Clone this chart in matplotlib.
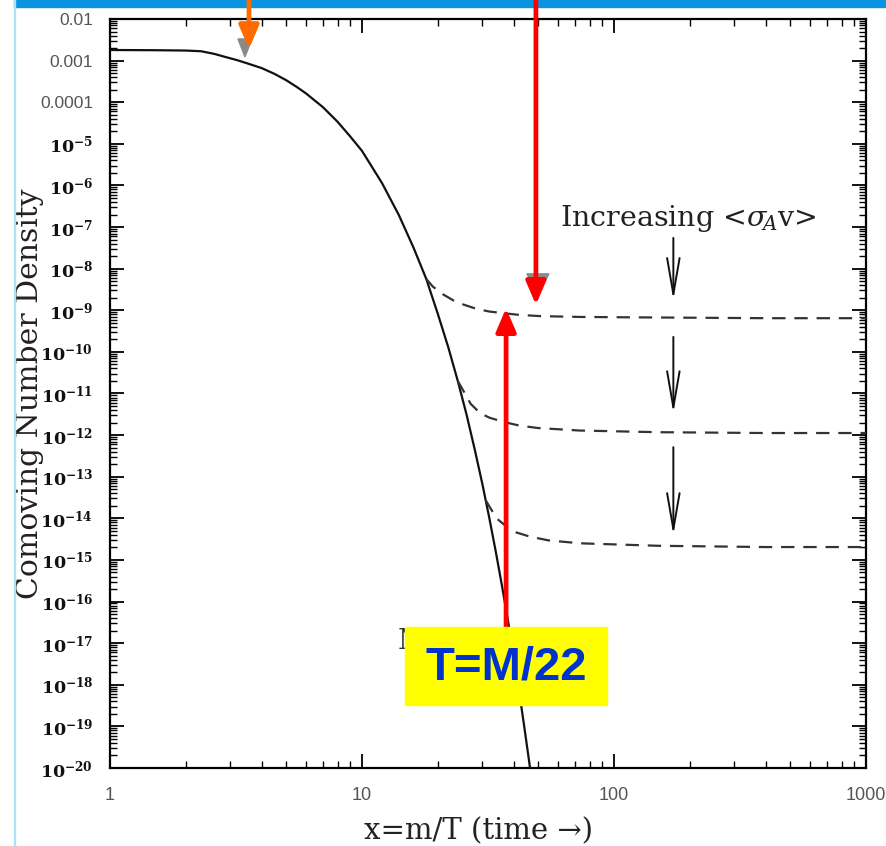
import numpy as np
import matplotlib
matplotlib.use("Agg")
import matplotlib.pyplot as plt
from matplotlib.patches import Rectangle, Polygon
from matplotlib.transforms import IdentityTransform
from matplotlib.ticker import FixedLocator, LogLocator, NullFormatter

plt.rcParams["mathtext.fontset"] = "dejavuserif"

# ---------------- data ----------------
eq_x = [1, 1.5, 2, 2.3, 2.6, 2.8, 3.2, 3.5, 4, 4.5, 5, 5.5, 6, 7, 8, 9, 10,
        12, 14, 16, 18, 20, 22, 24, 26, 28, 30, 32, 34, 36, 38, 40, 42, 44,
        46, 47]
eq_log10 = [-2.745, -2.75, -2.758, -2.775, -2.84, -2.895, -2.99, -3.065,
            -3.18, -3.32, -3.47, -3.63, -3.79, -4.12, -4.47, -4.83, -5.17,
            -5.94, -6.71, -7.49, -8.25, -9.09, -9.89, -10.70, -11.51, -12.34,
            -13.16, -13.99, -14.82, -15.65, -16.48, -17.32, -18.15, -18.99,
            -19.82, -20.24]

fo1_x = [18, 19.1, 21, 23, 25.2, 28.6, 32, 36.3, 42, 50.8, 73, 120, 220, 400, 1000]
fo1_log10 = [-8.25, -8.43, -8.62, -8.76, -8.86, -8.97, -9.03, -9.07, -9.11,
             -9.14, -9.16, -9.17, -9.18, -9.19, -9.19]
fo2_x = [24, 25.5, 27, 29.4, 32, 36.3, 42, 50, 73, 150, 400, 1000]
fo2_log10 = [-10.70, -10.98, -11.25, -11.47, -11.58, -11.68, -11.77, -11.83,
             -11.89, -11.93, -11.95, -11.95]
fo3_x = [31, 32.5, 34.5, 37.5, 41, 46.4, 55, 73.3, 150, 400, 1000]
fo3_log10 = [-13.57, -13.78, -14.02, -14.20, -14.34, -14.44, -14.53, -14.60,
             -14.66, -14.69, -14.69]

y_tick_exp = list(range(-2, -21, -1))
x_tick_vals = [1, 10, 100, 1000]
x_tick_labels = ["1", "10", "100", "1000"]

# annotation anchors (data)
orange_tip = (3.56, 10 ** -2.72)
red_down_tip = (49.0, 10 ** -8.87)
red_up_tip = (37.3, 10 ** -8.95)
small_arrows_x = 172
small_arrows = [(10 ** -7.26, 10 ** -8.75), (10 ** -9.64, 10 ** -11.47),
                (10 ** -12.29, 10 ** -14.40)]

# ---------------- figure ----------------
W, H = 886, 846
fig = plt.figure(figsize=(W / 100, H / 100), dpi=100)
fig.patch.set_facecolor("white")
L, R, T, B = 110, 866, 19, 768
ax = fig.add_axes([L / W, 1 - B / H, (R - L) / W, (B - T) / H])
ax.set_xscale("log")
ax.set_yscale("log")
ax.set_xlim(1, 1000)
ax.set_ylim(1e-20, 1e-2)

ax.plot(eq_x, 10 ** np.array(eq_log10), color="#111111", lw=1.6, zorder=3)
for xs, ls in [(fo1_x, fo1_log10), (fo2_x, fo2_log10), (fo3_x, fo3_log10)]:
    ax.plot(xs, 10 ** np.array(ls), color="#333333", lw=1.6,
            dashes=(6, 4), zorder=3)

# spines / ticks
for s in ax.spines.values():
    s.set_linewidth(1.6)
ax.tick_params(which="both", direction="in", top=True, right=True)
ax.tick_params(which="major", length=10, width=1.3)
ax.tick_params(which="minor", length=5, width=1.0)
ax.xaxis.set_major_locator(FixedLocator(x_tick_vals))
ax.set_xticklabels(x_tick_labels)
ax.xaxis.set_minor_locator(LogLocator(base=10, subs=np.arange(2, 10)))
ax.xaxis.set_minor_formatter(NullFormatter())
ax.yaxis.set_major_locator(FixedLocator([10.0 ** e for e in y_tick_exp]))
ylabels = []
for e in y_tick_exp:
    if e == -2:
        ylabels.append("0.01")
    elif e == -3:
        ylabels.append("0.001")
    elif e == -4:
        ylabels.append("0.0001")
    else:
        ylabels.append(r"$\mathbf{10^{%d}}$" % e)
ax.set_yticklabels(ylabels)
ax.yaxis.set_minor_locator(LogLocator(base=10, subs=np.arange(2, 10), numticks=30))
ax.yaxis.set_minor_formatter(NullFormatter())
ax.tick_params(axis="x", which="major", pad=14)
ax.tick_params(axis="y", which="major", pad=12)
for lab in ax.get_xticklabels():
    lab.set_fontfamily("Liberation Sans")
    lab.set_fontsize(13)
    lab.set_color("#555555")
for lab, e in zip(ax.get_yticklabels(), y_tick_exp):
    if e >= -4:
        lab.set_fontfamily("Liberation Sans")
        lab.set_fontsize(12.5)
        lab.set_color("#555555")
    else:
        lab.set_fontsize(12.5)
        lab.set_color("#111111")

ax.set_ylabel("Comoving Number Density", fontfamily="DejaVu Serif",
              fontsize=21.5, color="#222222")
ax.yaxis.set_label_coords((44 - L) / (R - L), 0.5)
ax.set_xlabel("x=m/T (time \u2192)", fontfamily="DejaVu Serif",
              fontsize=21, color="#222222")
ax.xaxis.set_label_coords((479 - L) / (R - L), -(817 - B) / (B - T))

# text: Increasing <sigma_A v>
fig.text(688 / W, 1 - 218 / H, r"Increasing <$\sigma_{\!A}$v>",
         fontfamily="DejaVu Serif", fontsize=20.5, color="#222222",
         ha="center", va="center")
for y0, y1 in small_arrows:
    ax.annotate("", xy=(small_arrows_x, y1), xytext=(small_arrows_x, y0),
                arrowprops=dict(arrowstyle="->,head_length=2.6,head_width=0.45",
                                color="#111111", lw=1.4, shrinkA=0, shrinkB=0),
                zorder=4)

# partially hidden letter behind the yellow box
ax.text(398 / W, 1 - 641 / H, "N", transform=fig.transFigure, fontsize=20,
        fontfamily="DejaVu Serif", color="#333333", ha="left", va="center",
        zorder=5)

# blue bar and left line (drawn inside the axes layer, under the arrows)
ax.add_patch(Rectangle((14 / W, 1 - 7 / H), (W - 14) / W, 7 / H,
                       transform=fig.transFigure, color="#0A94E0",
                       zorder=10, clip_on=False))
ax.add_patch(Rectangle((13.5 / W, 0), 1.2 / W, 1, transform=fig.transFigure,
                       color="#A8E4F4", zorder=10, clip_on=False))


def big_arrow(tip, start_fig_y, color):
    ax.annotate("", xy=tip, xycoords="data",
                xytext=(tip[0], start_fig_y), textcoords=("data", "figure fraction"),
                arrowprops=dict(arrowstyle="-|>,head_length=14,head_width=6",
                                mutation_scale=1, color=color, lw=3.4,
                                shrinkA=0, shrinkB=0),
                zorder=12, annotation_clip=False)


def shadow_head(tip, dx_px, dy_px, half_w=9, length=20):
    # grey triangle slightly offset behind the arrow head
    px, py = ax.transData.transform(tip)
    pts = [(px - half_w + dx_px, py + length + dy_px),
           (px + half_w + dx_px, py + length + dy_px),
           (px + dx_px, py + dy_px)]
    ax.add_patch(Polygon(pts, closed=True, transform=IdentityTransform(),
                         color="#8a8a8a", zorder=11, clip_on=False))


fig.canvas.draw()
shadow_head(orange_tip, -4, -8, half_w=7, length=18)
shadow_head(red_down_tip, 2, 11, half_w=11, length=20)
big_arrow(orange_tip, 1.0, "#FF6A00")
big_arrow(red_down_tip, 1.0, "#FF0000")
big_arrow(red_up_tip, 1 - 628 / H, "#FF0000")

# yellow box with text
fig.add_artist(Rectangle((405 / W, 1 - 705 / H), 202 / W, 78 / H,
                         transform=fig.transFigure, color="#FFFF00", zorder=13))
fig.text(506 / W, 1 - 667 / H, "T=M/22", fontfamily="Liberation Sans",
         fontweight="bold", fontsize=34, color="#0033CC",
         ha="center", va="center", zorder=14)

fig.savefig("out.png", dpi=100, facecolor="white")
